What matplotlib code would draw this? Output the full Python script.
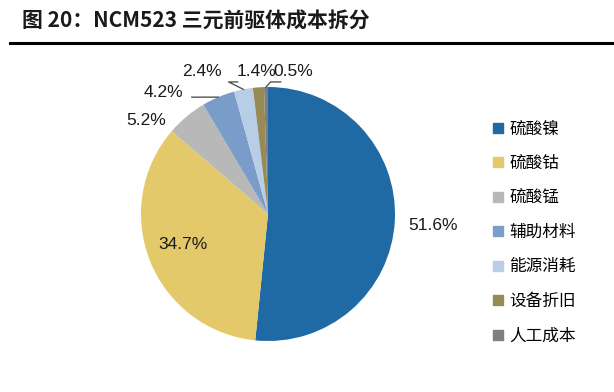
import numpy as np
import matplotlib
matplotlib.use('Agg')
import matplotlib.pyplot as plt
from matplotlib.lines import Line2D

plt.rcParams['font.family'] = ['Liberation Sans', 'Noto Sans CJK SC', 'DejaVu Sans']

# data
labels = ['硫酸镍', '硫酸钴', '硫酸锰', '辅助材料', '能源消耗', '设备折旧', '人工成本']
shares = [51.6, 34.7, 5.2, 4.2, 2.4, 1.4, 0.5]
colors = ['#1f6aa5', '#e4c96a', '#b8b8b8', '#7a9cc8', '#b8cde6', '#968b55', '#7f7f7f']

# label placement (radius units): text position and elbow points of leader line
text_pos = [(1.30, -0.09), (-0.67, -0.24), (-0.96, 0.74), (-0.82, 0.96),
            (-0.52, 1.12), (-0.09, 1.12), (0.20, 1.12)]
elbows = [None, None, None, [(-0.60, 0.92)], [(-0.31, 1.04), (-0.24, 1.04)],
          None, [(0.02, 1.04), (0.10, 1.04)]]

fig = plt.figure(figsize=(6.14, 3.92), dpi=100)
fig.text(0.036, 0.945, '图 20：NCM523 三元前驱体成本拆分', fontsize=15, fontweight='bold',
         va='center', ha='left', color='#1a1a1a',
         family=['Noto Sans CJK SC', 'DejaVu Sans'])
fig.add_artist(Line2D([0.016, 1.0], [0.89, 0.89], color='black', lw=2.2))

ax = fig.add_axes([141 / 614, (392 - 214 - 127) / 392, 254 / 614, 254 / 392])
wedges, _ = ax.pie(shares, colors=colors, startangle=90, counterclock=False,
                   radius=1.0, wedgeprops=dict(linewidth=0))
ax.set_xlim(-1, 1)
ax.set_ylim(-1, 1)
ax.set_aspect('equal')
ax.axis('off')

for w, s, (tx, ty), el in zip(wedges, shares, text_pos, elbows):
    ax.text(tx, ty, f'{s}%', ha='center', va='center', fontsize=12.5, color='#1a1a1a',
            clip_on=False)
    if el is not None:
        ang = np.deg2rad((w.theta1 + w.theta2) / 2)
        xs = [np.cos(ang)] + [p[0] for p in el]
        ys = [np.sin(ang)] + [p[1] for p in el]
        ax.plot(xs, ys, color='#555555', lw=1, clip_on=False)

handles = [Line2D([], [], marker='s', linestyle='', markersize=7.5, color=c) for c in colors]
fig.legend(handles, labels, loc='upper left', bbox_to_anchor=(0.79, 0.71),
           frameon=False, labelspacing=1.05, handlelength=0.7,
           handletextpad=0.35, borderaxespad=0,
           prop={'family': ['Noto Sans CJK SC'], 'size': 12})

fig.savefig('out.png', dpi=100)
